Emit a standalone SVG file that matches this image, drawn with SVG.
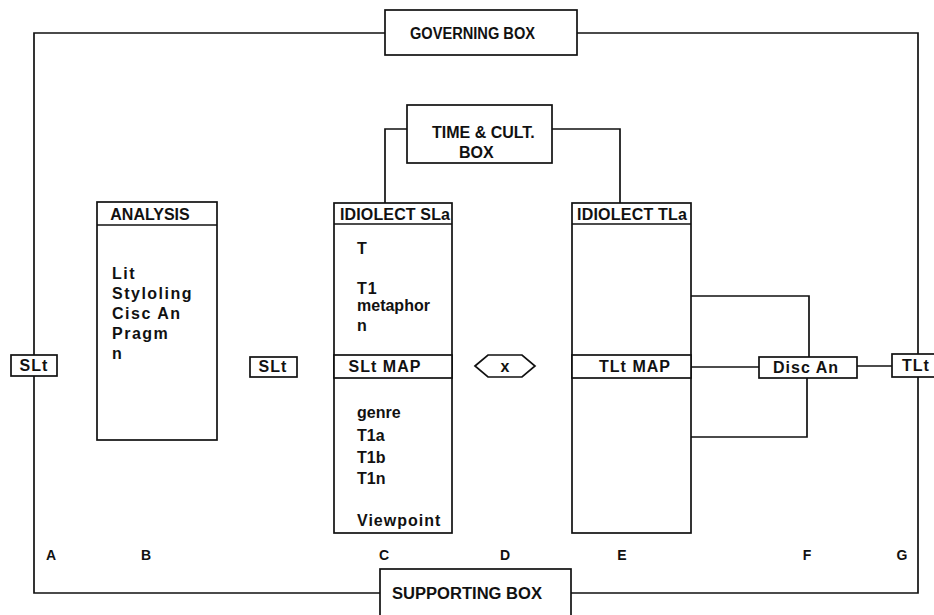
<svg xmlns="http://www.w3.org/2000/svg" width="934" height="615" viewBox="0 0 934 615">
<style>
.b{fill:#fff;stroke:#111;stroke-width:1.7}
.c{fill:none;stroke:#111;stroke-width:1.7}
text{font-family:"Liberation Sans",Arial,sans-serif;font-weight:bold;fill:#111;font-size:16px}
.m{text-anchor:middle}
.s{letter-spacing:1px}
.w{letter-spacing:1.5px}
.l{font-size:14px;text-anchor:middle}
</style>
<rect width="934" height="615" fill="#fff"/>
<g id="connectors">
<path class="c" d="M385,33 H34 V355"/>
<path class="c" d="M34,376 V593 H380"/>
<path class="c" d="M577,33 H918 V354"/>
<path class="c" d="M918,377 V593 H571"/>
<path class="c" d="M407,129 H385 V203"/>
<path class="c" d="M552,129 H620 V203"/>
<path class="c" d="M691,296 H809 V357"/>
<path class="c" d="M691,437 H807 V378"/>
<path class="c" d="M691,367 H759"/>
<path class="c" d="M857,366 H892"/>
</g>
<g id="governing">
<rect class="b" x="385" y="10" width="192" height="45"/>
<text x="410" y="39" textLength="125" lengthAdjust="spacingAndGlyphs">GOVERNING BOX</text>
</g>
<g id="supporting">
<rect class="b" x="380" y="569" width="191" height="60"/>
<text x="392" y="599" textLength="150" lengthAdjust="spacingAndGlyphs">SUPPORTING BOX</text>
</g>
<g id="timecult">
<rect class="b" x="407" y="105" width="145" height="58"/>
<text x="432" y="138">TIME &amp; CULT.</text>
<text x="459" y="158">BOX</text>
</g>
<g id="slt-left">
<rect class="b" x="11" y="355" width="46" height="21"/>
<text x="34" y="371" class="m s">SLt</text>
</g>
<g id="analysis">
<rect class="b" x="97" y="202" width="120" height="238"/>
<line class="c" x1="97" y1="225" x2="217" y2="225"/>
<text x="150" y="220" class="m">ANALYSIS</text>
<text x="112" y="279" class="w">Lit</text>
<text x="112" y="299" class="w">Styloling</text>
<text x="112" y="319" class="w">Cisc An</text>
<text x="112" y="339" class="w">Pragm</text>
<text x="112" y="359">n</text>
</g>
<g id="slt-mid">
<rect class="b" x="250" y="357" width="47" height="20"/>
<text x="273" y="372" class="m s">SLt</text>
</g>
<g id="idiolect-sla">
<rect class="b" x="334" y="203" width="118" height="330"/>
<line class="c" x1="334" y1="224" x2="452" y2="224"/>
<rect class="b" x="334" y="355" width="118" height="23"/>
<text x="340" y="220" textLength="110">IDIOLECT SLa</text>
<text x="385" y="372" class="m s">SLt MAP</text>
<text x="357" y="254">T</text>
<text x="357" y="294" class="s">T1</text>
<text x="357" y="311">metaphor</text>
<text x="357" y="331">n</text>
<text x="357" y="418">genre</text>
<text x="357" y="441">T1a</text>
<text x="357" y="463">T1b</text>
<text x="357" y="484">T1n</text>
<text x="357" y="526" class="s">Viewpoint</text>
</g>
<g id="x-node">
<polygon class="b" points="475,366 488,355 522,355 535,366 522,377 488,377"/>
<text x="505" y="372" class="m">x</text>
</g>
<g id="idiolect-tla">
<rect class="b" x="572" y="203" width="119" height="330"/>
<line class="c" x1="572" y1="224" x2="691" y2="224"/>
<rect class="b" x="572" y="355" width="119" height="23"/>
<text x="577" y="220" textLength="110">IDIOLECT TLa</text>
<text x="635" y="372" class="m s">TLt MAP</text>
</g>
<g id="disc-an">
<rect class="b" x="759" y="357" width="98" height="21"/>
<text x="806" y="373" class="m s">Disc An</text>
</g>
<g id="tlt-right">
<rect class="b" x="892" y="354" width="50" height="23"/>
<text x="902" y="371" class="s">TLt</text>
</g>
<g id="labels">
<text x="51" y="560" class="l">A</text>
<text x="146" y="560" class="l">B</text>
<text x="384" y="560" class="l">C</text>
<text x="505" y="560" class="l">D</text>
<text x="622" y="560" class="l">E</text>
<text x="807" y="560" class="l">F</text>
<text x="902" y="560" class="l">G</text>
</g>
</svg>
